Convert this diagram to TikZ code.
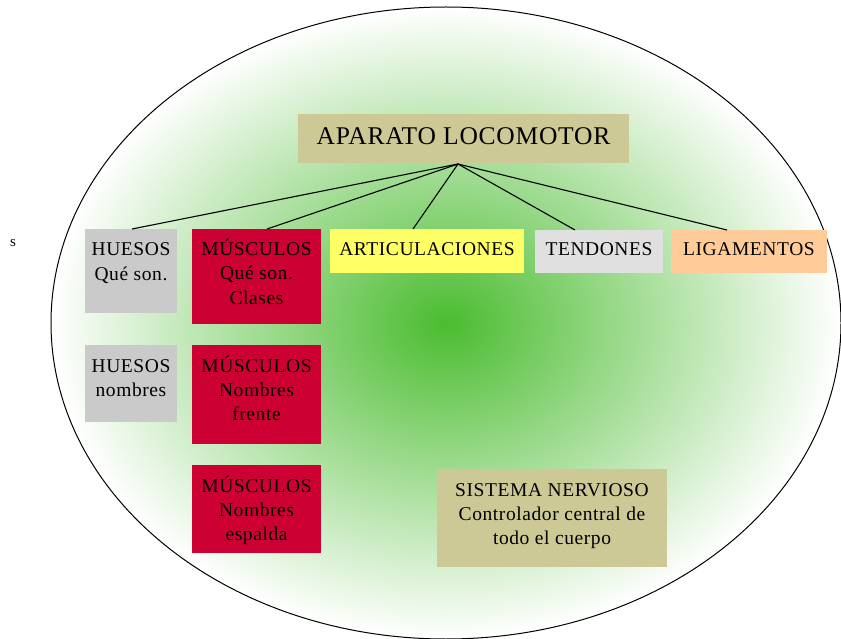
\documentclass[tikz,border=0pt]{standalone}
\usepackage{fontspec}
\setmainfont[LetterSpace=3]{Liberation Serif}
\usetikzlibrary{calc}
\definecolor{ellgreen}{RGB}{75,188,48}
\definecolor{khaki}{RGB}{204,201,151}
\definecolor{bonegray}{RGB}{202,202,202}
\definecolor{musclered}{RGB}{204,0,51}
\definecolor{artyellow}{RGB}{255,255,102}
\definecolor{tendgray}{RGB}{224,224,224}
\definecolor{ligpeach}{RGB}{255,204,153}
\newcommand\bt[4]{\parbox[c][#2pt][t]{#1pt}{\centering\rule{0pt}{#3pt}#4\par}}
\begin{document}
\begin{tikzpicture}[x=1pt,y=-1pt,
  box/.style={anchor=north west, inner sep=0pt, outer sep=0pt, font=\fontsize{19.5}{24}\selectfont},
  conn/.style={draw=black, line width=1.1pt}]
\useasboundingbox (0,0) rectangle (841,639);
\shade[inner color=ellgreen, outer color=white] (446,323) ellipse [x radius=395, y radius=316];
\draw[line width=1pt] (446,323) ellipse [x radius=395, y radius=316];

\node[box, fill=khaki, font=\fontsize{25.5}{30}\selectfont] (title) at (298,114) {\bt{331}{49}{31}{APARATO LOCOMOTOR}};

\node[box, fill=bonegray] (hq) at (85,229) {\bt{92}{84}{27}{HUESOS\\Qué son.}};
\node[box, fill=musclered] (mq) at (192,229) {\bt{129}{95}{27}{MÚSCULOS\\Qué son.\\Clases}};
\node[box, fill=artyellow] (art) at (330,229) {\bt{194}{44}{27}{ARTICULACIONES}};
\node[box, fill=tendgray] (ten) at (535,230) {\bt{128}{43}{26}{TENDONES}};
\node[box, fill=ligpeach] (lig) at (671,230) {\bt{156}{43}{26}{LIGAMENTOS}};

\node[box, fill=bonegray] (hn) at (85,345) {\bt{92}{77}{27}{HUESOS\\nombres}};
\node[box, fill=musclered] (mf) at (192,345) {\bt{129}{99}{27}{MÚSCULOS\\Nombres\\frente}};
\node[box, fill=musclered] (me) at (192,465) {\bt{129}{88}{27}{MÚSCULOS\\Nombres\\espalda}};

\node[box, fill=khaki] (sn) at (437,469) {\bt{230}{98}{27}{SISTEMA NERVIOSO\\Controlador central de\\todo el cuerpo}};

\node[inner sep=0pt, font=\fontsize{15}{17}\selectfont] (stray) at (13,243) {s};

\coordinate (apex) at (458,164);
\draw[conn] (apex) -- ($(hq.north west)+(47,0)$);
\draw[conn] (apex) -- ($(mq.north west)+(75,0)$);
\draw[conn] (apex) -- ($(art.north west)+(83,0)$);
\draw[conn] (apex) -- ($(ten.north west)+(40,0)$);
\draw[conn] (apex) -- ($(lig.north west)+(56,0)$);
\end{tikzpicture}
\end{document}
